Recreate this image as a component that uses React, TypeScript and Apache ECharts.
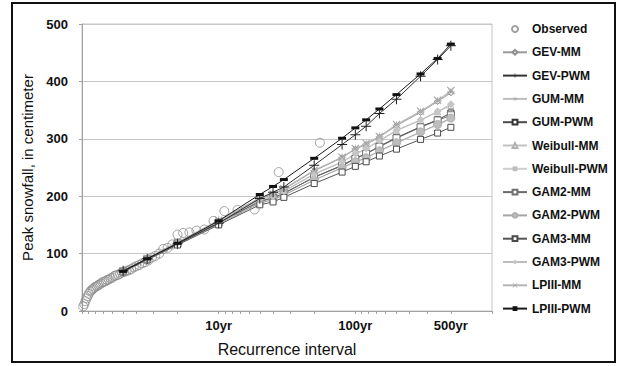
import React, { useEffect, useRef } from "react";
import * as echarts from "echarts";

// Return periods (years) at which each fitted distribution is plotted
const returnPeriods = [2, 3, 5, 10, 20, 25, 30, 50, 80, 100, 120, 150, 200, 300, 400, 500];

const gevMM = [70, 92, 119, 157, 196, 203, 212, 244, 267, 282, 290, 303, 323, 346, 365, 380];
const gevPWM = [70, 91, 117, 153, 196, 207, 216, 254, 290, 307, 322, 344, 369, 409, 438, 462];
const gumMM = [70, 92, 120, 158, 197, 204, 213, 245, 268, 283, 291, 304, 324, 347, 366, 382];
const gumPWM = [69, 90, 118, 154, 191, 197, 205, 233, 254, 266, 274, 287, 302, 321, 333, 345];
const weibullMM = [70, 91, 119, 156, 194, 200, 208, 238, 259, 273, 282, 296, 314, 332, 347, 358];
const weibullPWM = [69, 90, 117, 152, 188, 194, 202, 228, 249, 259, 266, 278, 292, 311, 324, 334];
const gam2MM = [69, 90, 118, 154, 191, 197, 205, 233, 253, 265, 274, 286, 301, 320, 332, 341];
const gam2PWM = [69, 90, 117, 152, 188, 194, 202, 228, 250, 260, 267, 279, 293, 312, 325, 336];
const gam3MM = [68, 89, 115, 150, 185, 190, 198, 222, 242, 252, 260, 270, 282, 299, 310, 320];
const gam3PWM = [70, 91, 119, 156, 194, 200, 209, 239, 260, 274, 283, 297, 315, 333, 348, 360];
const lpiiiMM = [70, 92, 120, 158, 197, 204, 213, 245, 268, 283, 292, 304, 325, 348, 367, 384];
const lpiiiPWM = [69, 91, 118, 157, 203, 217, 229, 266, 301, 319, 333, 352, 377, 413, 440, 465];

// Observed annual peaks: plotting-position recurrence interval (yr) and snowfall (cm)
const observedT = [
  55, 27.5, 18.33, 13.75, 11, 9.17, 7.86, 6.88, 6.11, 5.5, 5, 4.58, 4.23, 3.93, 3.67, 3.44, 3.24, 3.06,
  2.89, 2.75, 2.62, 2.5, 2.39, 2.29, 2.2, 2.12, 2.04, 1.96, 1.9, 1.83, 1.77, 1.72, 1.67, 1.62, 1.57,
  1.53, 1.49, 1.45, 1.41, 1.38, 1.34, 1.31, 1.28, 1.25, 1.22, 1.2, 1.17, 1.15, 1.12, 1.1, 1.08, 1.06,
  1.04, 1.02,
];
const observedValues = [
  293, 242, 177, 176, 174, 157, 142, 140, 137, 136, 133, 116, 110, 108, 100, 96, 93, 88, 85, 83, 80,
  78, 76, 73, 71, 70, 68, 67, 65, 63, 62, 61, 58, 57, 55, 54, 52, 51, 50, 48, 46, 45, 43, 42, 40, 38,
  36, 34, 30, 26, 22, 17, 12, 8,
];

// Axis ticks / labels
const xTickValues = [
  1, 1.111, 1.25, 1.429, 1.667, 2, 2.5, 3.333, 5, 10, 11.11, 12.5, 14.29, 16.67, 20, 25, 33.33, 50, 100,
  111.1, 125, 142.9, 166.7, 200, 250, 333.3, 500, 1000,
];
const xLabelValues = [10, 100, 500];
const yTicks = { min: 0, max: 500, interval: 100 };

const PLUS = "path://M4.5,0H5.5V4.5H10V5.5H5.5V10H4.5V5.5H0V4.5H4.5Z";
const DASH = "path://M0,0H10V3H0Z";
const XMARK = "path://M1.15,1.85L1.85,1.15L8.85,8.15L8.15,8.85Z M8.15,1.15L8.85,1.85L1.85,8.85L1.15,8.15Z";
const STAR =
  "path://M4.6,0H5.4V4.6H10V5.4H5.4V10H4.6V5.4H0V4.6H4.6Z M1.5,2.1L2.1,1.5L8.5,7.9L7.9,8.5Z M7.9,1.5L8.5,2.1L2.1,8.5L1.5,7.9Z";

const SANS = "'Liberation Sans', Arial, sans-serif";

type Spec = {
  name: string;
  values: number[];
  line: string;
  symbol: string;
  size: number | number[];
  fill: string;
  border?: string;
  z?: number;
};

const specs: Spec[] = [
  { name: "GEV-MM", values: gevMM, line: "#9a9a9a", symbol: "diamond", size: 6, fill: "#ffffff", border: "#8c8c8c" },
  { name: "GEV-PWM", values: gevPWM, line: "#333333", symbol: PLUS, size: 10, fill: "#222222", z: 5 },
  { name: "GUM-MM", values: gumMM, line: "#bdbdbd", symbol: STAR, size: 8, fill: "#a8a8a8" },
  { name: "GUM-PWM", values: gumPWM, line: "#4a4a4a", symbol: "rect", size: 6, fill: "#ffffff", border: "#333333" },
  { name: "Weibull-MM", values: weibullMM, line: "#c2c2c2", symbol: "triangle", size: 6, fill: "#ffffff", border: "#b0b0b0" },
  { name: "Weibull-PWM", values: weibullPWM, line: "#cfcfcf", symbol: DASH, size: [8, 2], fill: "#bdbdbd" },
  { name: "GAM2-MM", values: gam2MM, line: "#6a6a6a", symbol: "rect", size: 7, fill: "#ffffff", border: "#707070" },
  { name: "GAM2-PWM", values: gam2PWM, line: "#a5a5a5", symbol: "circle", size: 8, fill: "#bdbdbd", border: "#b0b0b0" },
  { name: "GAM3-MM", values: gam3MM, line: "#555555", symbol: "rect", size: 6, fill: "#ffffff", border: "#4a4a4a" },
  { name: "GAM3-PWM", values: gam3PWM, line: "#bdbdbd", symbol: "diamond", size: 8, fill: "#c6c6c6" },
  { name: "LPIII-MM", values: lpiiiMM, line: "#b5b5b5", symbol: XMARK, size: 8, fill: "#a5a5a5" },
  { name: "LPIII-PWM", values: lpiiiPWM, line: "#1a1a1a", symbol: DASH, size: [8, 3], fill: "#111111", z: 6 },
];

export default function App() {
  const ref = useRef<HTMLDivElement>(null);

  useEffect(() => {
    if (!ref.current) return;
    const chart = echarts.init(ref.current, undefined, { renderer: "svg" });

    const lineSeries = specs.map((s) => ({
      type: "line",
      name: s.name,
      data: returnPeriods.map((t, i) => [t, s.values[i]]),
      symbol: s.symbol,
      symbolSize: s.size,
      showSymbol: true,
      z: s.z ?? 3,
      lineStyle: { color: s.line, width: 1 },
      itemStyle: {
        color: s.fill,
        borderColor: s.border ?? s.fill,
        borderWidth: s.border ? 1 : 0,
      },
      emphasis: { disabled: true },
    }));

    chart.setOption({
      animation: false,
      backgroundColor: "#ffffff",
      grid: {
        left: 82,
        right: 125,
        top: 24,
        bottom: 55,
        show: true,
        borderColor: "#c4c4c4",
        borderWidth: 1,
      },
      graphic: [
        {
          type: "rect",
          shape: { x: 12, y: 3, width: 603, height: 359 },
          style: { fill: "none", stroke: "#111111", lineWidth: 2 },
          silent: true,
        },
      ],
      legend: {
        orient: "vertical",
        left: 497,
        top: 16,
        itemWidth: 24,
        itemHeight: 6,
        itemGap: 7.3,
        textStyle: {
          fontFamily: SANS,
          fontWeight: "bold",
          fontSize: 12,
          lineHeight: 16,
          color: "#111111",
        },
        data: ["Observed", ...specs.map((s) => s.name)],
      },
      xAxis: {
        type: "log",
        logBase: 10,
        min: 1,
        max: 1000,
        name: "Recurrence interval",
        nameLocation: "middle",
        nameGap: 30,
        nameTextStyle: { fontFamily: SANS, fontSize: 16, color: "#111111" },
        axisLine: { lineStyle: { color: "#a0a0a0", width: 1 } },
        axisTick: { show: true, length: 3, customValues: xTickValues, lineStyle: { color: "#a0a0a0" } },
        axisLabel: {
          customValues: xLabelValues,
          formatter: (v: number) => `${Math.round(v)}yr`,
          fontFamily: SANS,
          fontWeight: "bold",
          fontSize: 13,
          color: "#111111",
          margin: 8,
        },
        splitLine: { show: false },
        minorTick: { show: false },
      },
      yAxis: {
        type: "value",
        min: yTicks.min,
        max: yTicks.max,
        interval: yTicks.interval,
        name: "Peak snowfall, in centimeter",
        nameLocation: "middle",
        nameGap: 43,
        nameTextStyle: { fontFamily: SANS, fontSize: 15, color: "#111111" },
        axisLine: { show: true, lineStyle: { color: "#a0a0a0", width: 1 } },
        axisTick: { show: true, length: 3, lineStyle: { color: "#a0a0a0" } },
        axisLabel: {
          fontFamily: SANS,
          fontWeight: "bold",
          fontSize: 13,
          color: "#111111",
          margin: 14,
        },
        splitLine: { lineStyle: { color: "#c8c8c8", width: 1 } },
      },
      series: [
        {
          type: "scatter",
          name: "Observed",
          data: observedT.map((t, i) => [t, observedValues[i]]),
          symbol: "circle",
          symbolSize: 9,
          z: 4,
          itemStyle: { color: "rgba(255,255,255,0)", borderColor: "#8a8a8a", borderWidth: 1 },
          emphasis: { disabled: true },
        },
        ...lineSeries,
      ],
    });

    return () => chart.dispose();
  }, []);

  return (
    <div
      ref={ref}
      style={{ position: "absolute", left: 0, top: 0, width: 617, height: 366, background: "#fff" }}
    />
  );
}
